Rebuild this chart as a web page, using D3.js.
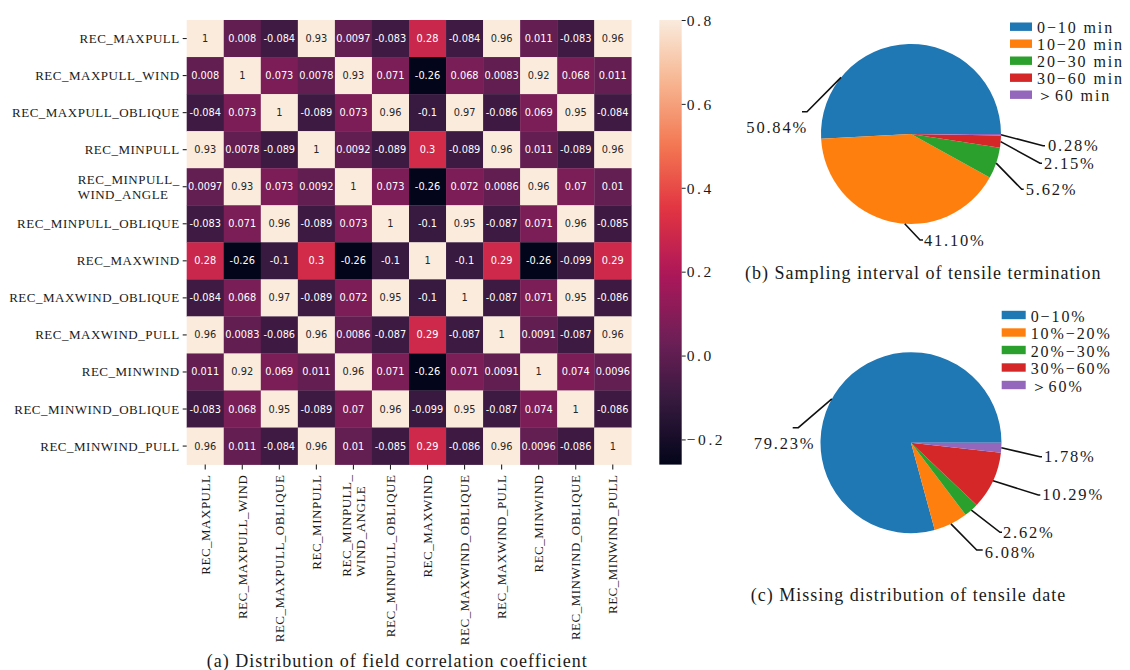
<!DOCTYPE html>
<html>
<head>
<meta charset="utf-8">
<script src="https://cdn.jsdelivr.net/npm/d3@7"></script>
<style>
  body { margin: 0; background: #fff; }
  text { font-family: "Liberation Serif", "Times New Roman", serif; fill: #1a1a1a; }
  .cell-label { font-family: "DejaVu Sans", sans-serif; }
</style>
</head>
<body>
<svg id="fig" width="1130" height="670"></svg>
<script>
// ---- data ----
const fields = [
  "REC_MAXPULL", "REC_MAXPULL_WIND", "REC_MAXPULL_OBLIQUE", "REC_MINPULL",
  "REC_MINPULL_\nWIND_ANGLE", "REC_MINPULL_OBLIQUE", "REC_MAXWIND", "REC_MAXWIND_OBLIQUE",
  "REC_MAXWIND_PULL", "REC_MINWIND", "REC_MINWIND_OBLIQUE", "REC_MINWIND_PULL"
];

const corr = [
  [1, 0.008, -0.084, 0.93, 0.0097, -0.083, 0.28, -0.084, 0.96, 0.011, -0.083, 0.96],
  [0.008, 1, 0.073, 0.0078, 0.93, 0.071, -0.26, 0.068, 0.0083, 0.92, 0.068, 0.011],
  [-0.084, 0.073, 1, -0.089, 0.073, 0.96, -0.1, 0.97, -0.086, 0.069, 0.95, -0.084],
  [0.93, 0.0078, -0.089, 1, 0.0092, -0.089, 0.3, -0.089, 0.96, 0.011, -0.089, 0.96],
  [0.0097, 0.93, 0.073, 0.0092, 1, 0.073, -0.26, 0.072, 0.0086, 0.96, 0.07, 0.01],
  [-0.083, 0.071, 0.96, -0.089, 0.073, 1, -0.1, 0.95, -0.087, 0.071, 0.96, -0.085],
  [0.28, -0.26, -0.1, 0.3, -0.26, -0.1, 1, -0.1, 0.29, -0.26, -0.099, 0.29],
  [-0.084, 0.068, 0.97, -0.089, 0.072, 0.95, -0.1, 1, -0.087, 0.071, 0.95, -0.086],
  [0.96, 0.0083, -0.086, 0.96, 0.0086, -0.087, 0.29, -0.087, 1, 0.0091, -0.087, 0.96],
  [0.011, 0.92, 0.069, 0.011, 0.96, 0.071, -0.26, 0.071, 0.0091, 1, 0.074, 0.0096],
  [-0.083, 0.068, 0.95, -0.089, 0.07, 0.96, -0.099, 0.95, -0.087, 0.074, 1, -0.086],
  [0.96, 0.011, -0.084, 0.96, 0.01, -0.085, 0.29, -0.086, 0.96, 0.0096, -0.086, 1]
];

const colorRange = [-0.26, 0.8];
const colorTicks = [-0.2, 0.0, 0.2, 0.4, 0.6, 0.8];

const intervalLabels = ["0\u221210 min", "10\u221220 min", "20\u221230 min", "30\u221260 min", "\uFF1E60 min"];
const intervalShares = [50.84, 41.10, 5.62, 2.15, 0.28];

const missingLabels = ["0\u221210%", "10%\u221220%", "20%\u221230%", "30%\u221260%", "\uFF1E60%"];
const missingShares = [79.23, 6.08, 2.62, 10.29, 1.78];

const sliceColors = ["#1f77b4", "#ff7f0e", "#2ca02c", "#d62728", "#9467bd"];

// ---- helpers ----
const svg = d3.select("#fig");
const SERIF = "\"Liberation Serif\", \"Times New Roman\", serif";

// rocket colormap, piecewise through its reference colours
const rocket = d3.piecewise(d3.interpolateRgb, [
  "#03051a", "#35193e", "#701f57", "#ad1759", "#e13342", "#f37651", "#f6b48f", "#faebdd"
]);
const norm = d3.scaleLinear().domain(colorRange).range([0, 1]).clamp(true);
const cellColor = v => rocket(norm(v));

function luminance(c) {
  const rgb = d3.rgb(c);
  const lin = u => { u /= 255; return u <= 0.03928 ? u / 12.92 : Math.pow((u + 0.055) / 1.055, 2.4); };
  return 0.2126 * lin(rgb.r) + 0.7152 * lin(rgb.g) + 0.0722 * lin(rgb.b);
}

const plainLocale = d3.formatLocale({ decimal: ".", thousands: ",", grouping: [3], currency: ["", ""], minus: "-" });
const cellFmt = plainLocale.format(".2~g");

// ---- heatmap ----
const hm = { left: 186.7, top: 20, size: 444.6 };
const idx = d3.range(fields.length);
const x = d3.scaleBand().domain(idx).range([hm.left, hm.left + hm.size]);
const y = d3.scaleBand().domain(idx).range([hm.top, hm.top + hm.size]);

const cells = [];
corr.forEach((row, r) => row.forEach((v, c) => cells.push({ r, c, v })));

const gCells = svg.append("g");
gCells.selectAll("rect").data(cells).join("rect")
  .attr("x", d => x(d.c))
  .attr("y", d => y(d.r))
  .attr("width", x.bandwidth() + 0.3)
  .attr("height", y.bandwidth() + 0.3)
  .attr("fill", d => cellColor(d.v));

gCells.selectAll("text").data(cells).join("text")
  .attr("class", "cell-label")
  .attr("x", d => x(d.c) + x.bandwidth() / 2)
  .attr("y", d => y(d.r) + y.bandwidth() / 2)
  .attr("text-anchor", "middle")
  .attr("dominant-baseline", "central")
  .style("font-family", "\"DejaVu Sans\", sans-serif")
  .style("font-size", "9.8px")
  .style("fill", d => luminance(cellColor(d.v)) > 0.408 ? "#262626" : "#ffffff")
  .text(d => cellFmt(d.v));

// multi-line tick labels, lines left-aligned and block right-aligned against the tick
function multilineLabels(sel, pad, lineGap, rotate) {
  sel.each(function (d) {
    const t = d3.select(this);
    const lines = fields[d].split("\n");
    t.text(null)
      .attr("text-anchor", "start")
      .attr("dy", null)
      .style("font-family", SERIF)
      .style("font-size", "13px")
      .style("letter-spacing", "0.5px")
      .style("fill", "#1a1a1a");
    const spans = lines.map((ln, i) => t.append("tspan").text(ln));
    const widths = spans.map(s => s.node().getComputedTextLength());
    const maxW = d3.max(widths);
    spans.forEach((s, i) => {
      const off = (i - (lines.length - 1) / 2) * lineGap;
      s.attr("x", -pad - maxW).attr("y", off).attr("dominant-baseline", "central");
    });
    if (rotate) t.attr("transform", "rotate(-90)");
  });
}

const yAxis = svg.append("g")
  .attr("transform", `translate(${hm.left},0)`)
  .call(d3.axisLeft(y).tickSize(4).tickSizeOuter(0));
yAxis.select(".domain").remove();
yAxis.selectAll(".tick line").attr("stroke", "#222").attr("stroke-width", 1.1);
yAxis.selectAll(".tick text").attr("x", null).call(multilineLabels, 7, 15, false);

const xAxis = svg.append("g")
  .attr("transform", `translate(0,${hm.top + hm.size})`)
  .call(d3.axisBottom(x).tickSize(5).tickSizeOuter(0));
xAxis.select(".domain").remove();
xAxis.selectAll(".tick line").attr("stroke", "#222").attr("stroke-width", 1.1);
xAxis.selectAll(".tick text").attr("x", null).call(multilineLabels, 10, 14, true);

// colour bar
const cb = { x: 659.3, w: 22.4 };
const cy = d3.scaleLinear().domain(colorRange).range([hm.top + hm.size, hm.top]);
const defs = svg.append("defs");
const grad = defs.append("linearGradient").attr("id", "cbar")
  .attr("x1", 0).attr("y1", 1).attr("x2", 0).attr("y2", 0);
d3.range(0, 1.0001, 0.02).forEach(t => {
  grad.append("stop").attr("offset", t).attr("stop-color", rocket(t));
});
svg.append("rect")
  .attr("x", cb.x).attr("y", cy(colorRange[1]))
  .attr("width", cb.w).attr("height", cy(colorRange[0]) - cy(colorRange[1]))
  .attr("fill", "url(#cbar)");

const cbFmt = d3.format(".1f");
const cbAxis = svg.append("g")
  .attr("transform", `translate(${cb.x + cb.w},0)`)
  .call(d3.axisRight(cy).tickValues(colorTicks).tickSize(4).tickPadding(1)
    .tickFormat(v => cbFmt(v)));
cbAxis.select(".domain").remove();
cbAxis.selectAll(".tick line").attr("stroke", "#222");
cbAxis.selectAll(".tick text")
  .attr("dy", "0.34em")
  .style("font-family", SERIF).style("font-size", "15.5px").style("letter-spacing", "2.6px")
  .style("fill", "#1a1a1a");

// ---- pies ----
// angles: counter-clockwise from the 3 o'clock direction
const pieGen = d3.pie().sort(null).value(d => d)
  .startAngle(Math.PI / 2).endAngle(Math.PI / 2 - 2 * Math.PI);

function drawPie(cfg) {
  const g = svg.append("g").attr("transform", `translate(${cfg.cx},${cfg.cy})`);
  const arcs = pieGen(cfg.values);
  const arc = d3.arc().innerRadius(0).outerRadius(cfg.r);
  g.selectAll("path").data(arcs).join("path")
    .attr("d", arc)
    .attr("fill", (d, i) => sliceColors[i]);

  arcs.forEach((a, i) => {
    const L = cfg.labels[i];
    const ang = L.angle != null ? (90 - L.angle) * Math.PI / 180 : (a.startAngle + a.endAngle) / 2;
    const sx = cfg.r * Math.sin(ang), sy = -cfg.r * Math.cos(ang);
    const [ex, ey] = L.elbow;
    g.append("path")
      .attr("d", `M${sx},${sy}L${ex},${ey}L${ex + L.tail},${ey}`)
      .attr("fill", "none").attr("stroke", "#111").attr("stroke-width", 1.6);
    g.append("text")
      .attr("x", ex + L.text[0]).attr("y", ey + L.text[1])
      .attr("text-anchor", L.anchor)
      .attr("dominant-baseline", "central")
      .style("font-size", "16.5px").style("letter-spacing", "1.8px")
      .text(d3.format(".2f")(cfg.values[i]) + "%");
  });

  const lg = svg.append("g").attr("transform", `translate(${cfg.legend[0]},${cfg.legend[1]})`);
  cfg.names.forEach((n, i) => {
    const row = lg.append("g").attr("transform", `translate(0,${i * cfg.legendStep})`);
    row.append("rect").attr("x", 0).attr("y", -4.2).attr("width", cfg.legendW).attr("height", 8.4)
      .attr("fill", sliceColors[i]);
    row.append("text").attr("x", cfg.legendW + 5).attr("y", 1.2)
      .attr("dominant-baseline", "central")
      .style("font-size", "16px").style("letter-spacing", "1.9px")
      .text(n);
  });

  svg.append("text")
    .attr("x", cfg.caption[0]).attr("y", cfg.caption[1])
    .attr("dominant-baseline", "central")
    .style("font-size", "18px").style("letter-spacing", "1px")
    .text(cfg.title);
}

drawPie({
  cx: 911, cy: 134, r: 90,
  values: intervalShares, names: intervalLabels,
  labels: [
    { angle: 141, elbow: [-104, -22.3], tail: -5, text: [1, 16], anchor: "end" },
    { angle: 266, elbow: [9, 106], tail: 3, text: [4, 0], anchor: "start" },
    { angle: null, elbow: [110.7, 55.3], tail: 2, text: [4, 0], anchor: "start" },
    { angle: null, elbow: [129, 29.3], tail: 2, text: [4, 0.5], anchor: "start" },
    { angle: null, elbow: [132, 11.7], tail: 2, text: [5, -0.5], anchor: "start" }
  ],
  legend: [1010, 26.7], legendStep: 17, legendW: 22,
  caption: [745, 273], title: "(b) Sampling interval of tensile termination"
});

drawPie({
  cx: 911, cy: 442.7, r: 90.5,
  values: missingShares, names: missingLabels,
  labels: [
    { angle: 151, elbow: [-112.7, -15], tail: -5.6, text: [17, 16], anchor: "end" },
    { angle: null, elbow: [65.7, 107.3], tail: 6, text: [8, 2.5], anchor: "start" },
    { angle: null, elbow: [89, 89.6], tail: 2, text: [3, 0], anchor: "start" },
    { angle: null, elbow: [127.3, 52.3], tail: 2, text: [4, 0], anchor: "start" },
    { angle: null, elbow: [129, 14], tail: 2, text: [4, 0], anchor: "start" }
  ],
  legend: [1001.7, 315], legendStep: 17.5, legendW: 24,
  caption: [750.7, 595], title: "(c) Missing distribution of tensile date"
});

// caption of the heatmap panel
svg.append("text")
  .attr("x", 206.7).attr("y", 660.5)
  .attr("dominant-baseline", "central")
  .style("font-size", "18px").style("letter-spacing", "1px")
  .text("(a) Distribution of field correlation coefficient");
</script>
</body>
</html>
